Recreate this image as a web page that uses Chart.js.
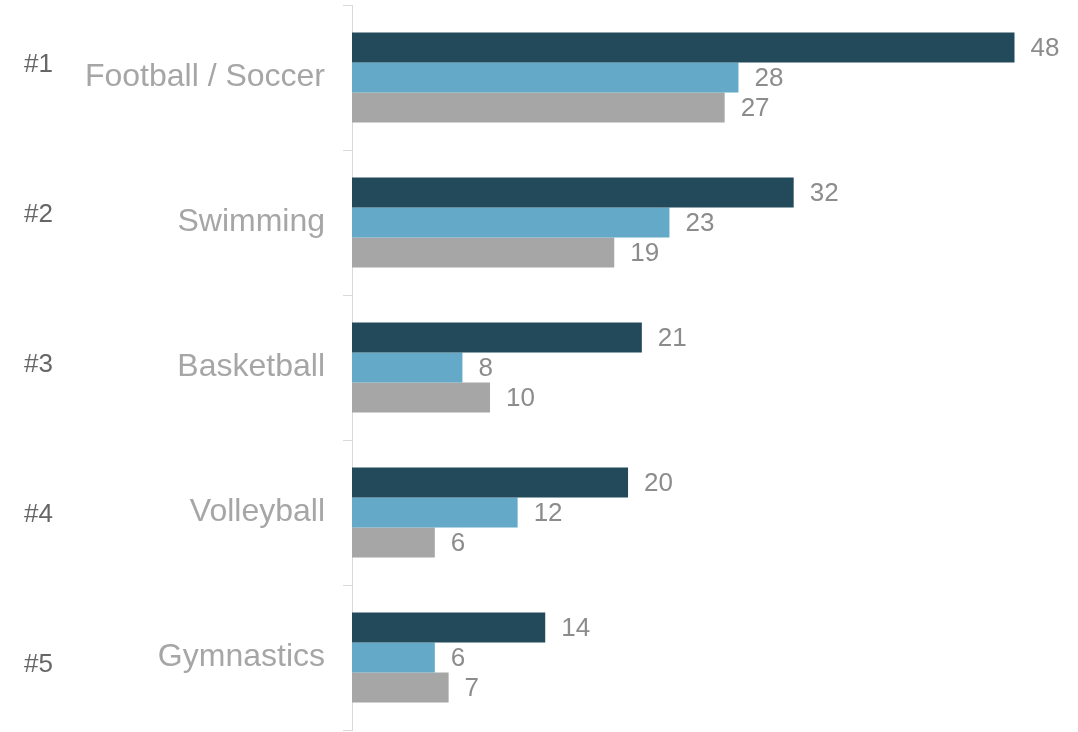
<!DOCTYPE html>
<html lang="en">
<head>
  <meta charset="UTF-8" />
  <title>Top 5 sports</title>
  <script src="https://cdn.jsdelivr.net/npm/chart.js"></script>
  <style>
    html, body {
      margin: 0;
      padding: 0;
      background: #ffffff;
    }
    .wrap {
      width: 1078px;
      height: 732px;
    }
  </style>
</head>
<body>
  <div class="wrap">
    <canvas id="chart"></canvas>
  </div>

  <script>
    const sports = ['Football / Soccer', 'Swimming', 'Basketball', 'Volleyball', 'Gymnastics'];
    const ranks = ['#1', '#2', '#3', '#4', '#5'];
    const seriesA = [48, 32, 21, 20, 14];
    const seriesB = [28, 23, 8, 12, 6];
    const seriesC = [27, 19, 10, 6, 7];

    const font = "'Liberation Sans', Arial, sans-serif";

    // writes the value just right of each bar end
    const valueLabels = {
      id: 'valueLabels',
      afterDatasetsDraw(chart) {
        const ctx = chart.ctx;
        ctx.save();
        ctx.font = '26px ' + font;
        ctx.fillStyle = '#8c8c8c';
        ctx.textAlign = 'left';
        ctx.textBaseline = 'middle';
        chart.data.datasets.forEach((ds, i) => {
          chart.getDatasetMeta(i).data.forEach((bar, j) => {
            ctx.fillText(ds.data[j], bar.x + 16, bar.y + 1);
          });
        });
        ctx.restore();
      }
    };

    // rank numbers on the far left; they run a bit wider apart than the rows,
    // so they sit at fractional positions of the category scale
    const rankLabels = {
      id: 'rankLabels',
      afterDraw(chart) {
        const ctx = chart.ctx;
        const y = chart.scales.y;
        const start = -0.086, step = 1.0345;
        ctx.save();
        ctx.font = '26px ' + font;
        ctx.fillStyle = '#666666';
        ctx.textAlign = 'left';
        ctx.textBaseline = 'middle';
        ranks.forEach((r, i) => {
          ctx.fillText(r, 24, y.getPixelForValue(start + i * step));
        });
        ctx.restore();
      }
    };

    new Chart(document.getElementById('chart'), {
      type: 'bar',
      data: {
        labels: sports,
        datasets: [
          { data: seriesA, backgroundColor: '#224a5b' },
          { data: seriesB, backgroundColor: '#64a9c8' },
          { data: seriesC, backgroundColor: '#a6a6a6' }
        ]
      },
      options: {
        indexAxis: 'y',
        responsive: true,
        maintainAspectRatio: false,
        animation: false,
        categoryPercentage: 0.62,
        barPercentage: 1.0,
        layout: { padding: { left: 87, top: 5, bottom: 2, right: 0 } },
        plugins: {
          legend: { display: false },
          tooltip: { enabled: false }
        },
        scales: {
          x: {
            display: false,
            min: 0,
            max: 52.6
          },
          y: {
            grid: {
              drawOnChartArea: false,
              drawTicks: true,
              tickLength: 9,
              color: '#d9d9d9'
            },
            border: { display: true, color: '#d9d9d9' },
            ticks: {
              padding: 18,
              color: '#a6a6a6',
              font: { family: font, size: 32 }
            },
            afterFit(scale) {
              // no extra room above/below for the labels, fixed label column
              scale.paddingTop = 0;
              scale.paddingBottom = 0;
              scale.width = 265;
            }
          }
        }
      },
      plugins: [valueLabels, rankLabels]
    });
  </script>
</body>
</html>
